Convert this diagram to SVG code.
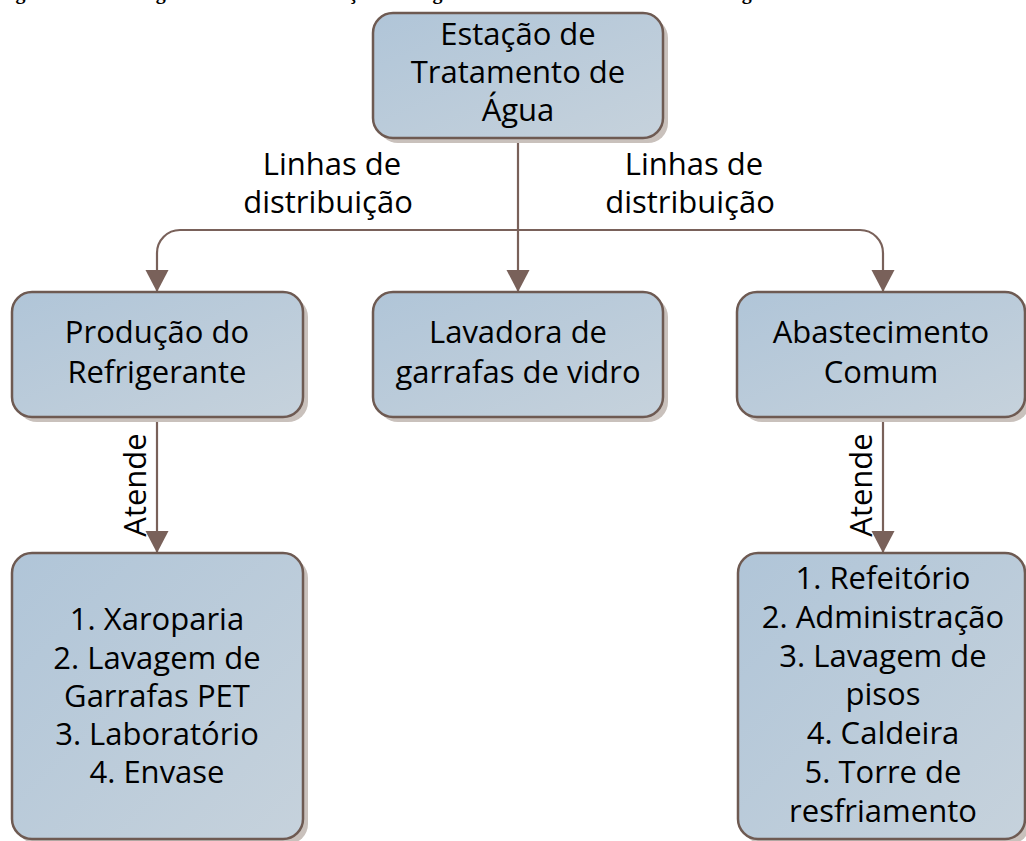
<svg xmlns="http://www.w3.org/2000/svg" width="1026" height="841" viewBox="0 0 1026 841">
<style>
.t{font-family:"Open Sans","Noto Sans",sans-serif;font-size:31px;fill:#000;text-anchor:middle}
.box{fill:url(#g);stroke:#6e5a52;stroke-width:2.5}
.sh{fill:#c9c1bc}
.c{fill:none;stroke:#79615a;stroke-width:2.2}
.cap{font-family:"Liberation Serif",serif;font-weight:bold;font-size:20px;fill:#000}
</style>
<defs>
<linearGradient id="g" x1="0" y1="0" x2="1" y2="1">
<stop offset="0" stop-color="#b0c5d8"/>
<stop offset="1" stop-color="#c6d2dc"/>
</linearGradient>
<marker id="a" markerUnits="userSpaceOnUse" markerWidth="24" markerHeight="24" refX="22" refY="11.5" orient="auto">
<path d="M0,0 L22,11.5 L0,23 Z" fill="#79615a"/>
</marker>
</defs>
<rect width="1026" height="841" fill="#fff"/>
<text class="cap" x="-6" y="-1" textLength="840" lengthAdjust="spacing">Figura 5: Fluxograma de distribuição de água na unidade fabril de refrigerantes.</text>

<g id="connectors">
<path class="c" d="M518,138 V292" marker-end="url(#a)"/>
<path class="c" d="M518,230 H180 A23,23 0 0 0 157,253 V292" marker-end="url(#a)"/>
<path class="c" d="M518,230 H860 A23,23 0 0 1 883,253 V292" marker-end="url(#a)"/>
<path class="c" d="M157,417 V553" marker-end="url(#a)"/>
<path class="c" d="M883,417 V553" marker-end="url(#a)"/>
<text class="t" x="332" y="175">Linhas de</text>
<text class="t" x="328" y="213">distribuição</text>
<text class="t" x="694" y="175">Linhas de</text>
<text class="t" x="690" y="213">distribuição</text>
<text class="t" transform="translate(146,485) rotate(-90)">Atende</text>
<text class="t" transform="translate(872,485) rotate(-90)">Atende</text>
</g>

<g id="n-eta">
<rect class="sh" x="378" y="18" width="290" height="125" rx="20"/>
<rect class="box" x="373" y="13" width="290" height="125" rx="20"/>
<text class="t" x="518" y="45">Estação de</text>
<text class="t" x="518" y="83">Tratamento de</text>
<text class="t" x="518" y="121">Água</text>
</g>

<g id="n-producao">
<rect class="sh" x="17" y="297" width="291" height="125" rx="20"/>
<rect class="box" x="12" y="292" width="291" height="125" rx="20"/>
<text class="t" x="157" y="343">Produção do</text>
<text class="t" x="157" y="383">Refrigerante</text>
</g>

<g id="n-lavadora">
<rect class="sh" x="378" y="297" width="290" height="125" rx="20"/>
<rect class="box" x="373" y="292" width="290" height="125" rx="20"/>
<text class="t" x="518" y="343">Lavadora de</text>
<text class="t" x="518" y="383">garrafas de vidro</text>
</g>

<g id="n-abastecimento">
<rect class="sh" x="742" y="297" width="288" height="125" rx="20"/>
<rect class="box" x="737" y="292" width="288" height="125" rx="20"/>
<text class="t" x="881" y="343">Abastecimento</text>
<text class="t" x="881" y="383">Comum</text>
</g>

<g id="n-lista1">
<rect class="sh" x="17" y="558" width="291" height="286" rx="20"/>
<rect class="box" x="12" y="553" width="291" height="286" rx="20"/>
<text class="t" x="157" y="630">1. Xaroparia</text>
<text class="t" x="157" y="669">2. Lavagem de</text>
<text class="t" x="157" y="707">Garrafas PET</text>
<text class="t" x="157" y="745">3. Laboratório</text>
<text class="t" x="157" y="783">4. Envase</text>
</g>

<g id="n-lista2">
<rect class="sh" x="743" y="558" width="287" height="286" rx="20"/>
<rect class="box" x="738" y="553" width="287" height="286" rx="20"/>
<text class="t" x="883" y="589">1. Refeitório</text>
<text class="t" x="883" y="628">2. Administração</text>
<text class="t" x="883" y="667">3. Lavagem de</text>
<text class="t" x="883" y="705">pisos</text>
<text class="t" x="883" y="744">4. Caldeira</text>
<text class="t" x="883" y="783">5. Torre de</text>
<text class="t" x="883" y="822">resfriamento</text>
</g>
</svg>
